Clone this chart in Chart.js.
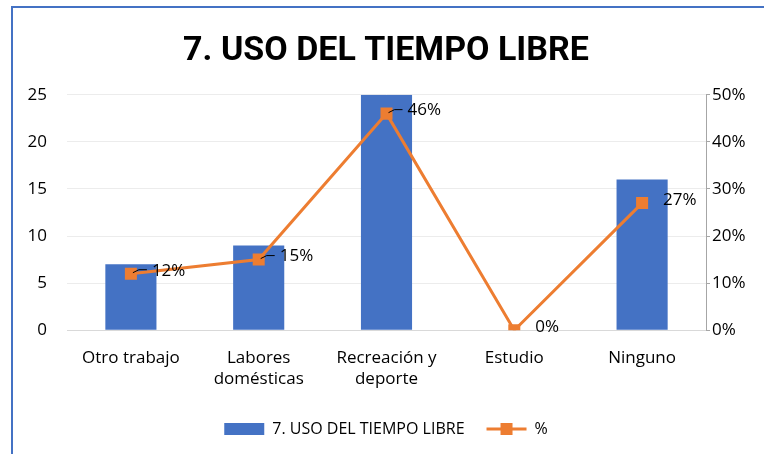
<!DOCTYPE html>
<html lang="es">
<head>
  <meta charset="UTF-8">
  <title>7. USO DEL TIEMPO LIBRE</title>
  <script src="https://cdn.jsdelivr.net/npm/chart.js"></script>
  <style>
    html, body { margin: 0; padding: 0; background: #fff; }
    #wrap { position: relative; width: 764px; height: 454px; overflow: hidden; }
    #frame { position: absolute; left: 11px; top: 6px; width: 800px; height: 500px;
             border-left: 2px solid #4472C4; border-top: 2px solid #4472C4; }
    canvas { position: absolute; left: 0; top: 0; }
  </style>
</head>
<body>
  <div id="wrap">
    <div id="frame"></div>
    <canvas id="chart" width="764" height="454"></canvas>
  </div>

  <script>
    const categories = ["Otro trabajo", ["Labores", "domésticas"], ["Recreación y", "deporte"], "Estudio", "Ninguno"];
    const cantidad = [7, 9, 25, 0, 16];
    const porcentaje = [12, 15, 46, 0, 27];
    const leftTicks = [0, 5, 10, 15, 20, 25];
    const rightTicks = [0, 10, 20, 30, 40, 50];

    const bodyFont = "'Open Sans', 'Noto Sans', sans-serif";
    const orange = "#ED7D31";

    // etiquetas de datos junto a cada punto + marcador cuadrado en la leyenda
    const extras = {
      id: "extras",
      afterDatasetsDraw(chart) {
        const ctx = chart.ctx;
        const meta = chart.getDatasetMeta(1);
        ctx.save();
        ctx.font = "17px " + bodyFont;
        ctx.fillStyle = "#000";
        ctx.textAlign = "left";
        ctx.textBaseline = "middle";
        meta.data.forEach((pt, i) => {
          ctx.strokeStyle = "#000";
          ctx.lineWidth = 1;
          if (porcentaje[i] > 0 && i !== 4) {
            ctx.beginPath();
            ctx.moveTo(pt.x + 2, pt.y - 1);
            ctx.lineTo(pt.x + 8, pt.y - 4);
            ctx.lineTo(pt.x + 16, pt.y - 4);
            ctx.stroke();
          }
          ctx.fillText(porcentaje[i] + "%", pt.x + 21, pt.y - 3);
        });
        ctx.restore();
      },
      afterDraw(chart) {
        const box = chart.legend.legendHitBoxes[1];
        if (!box) return;
        const ctx = chart.ctx;
        ctx.save();
        ctx.fillStyle = orange;
        ctx.fillRect(box.left + 20 - 6, box.top + box.height / 2 - 6, 12, 12);
        ctx.restore();
      }
    };

    new Chart(document.getElementById("chart"), {
      type: "bar",
      data: {
        labels: categories,
        datasets: [{
          label: "7. USO DEL TIEMPO LIBRE",
          data: cantidad,
          backgroundColor: "#4472C4",
          categoryPercentage: 1,
          barPercentage: 0.4,
          yAxisID: "y",
          order: 2
        }, {
          type: "line",
          label: "%",
          data: porcentaje,
          borderColor: orange,
          backgroundColor: orange,
          borderWidth: 3,
          pointStyle: "rect",
          pointRadius: 8.5,
          pointBorderWidth: 0,
          yAxisID: "y1",
          order: 1
        }]
      },
      options: {
        responsive: false,
        animation: false,
        layout: { padding: { top: 31, left: 14, right: 6, bottom: 7 } },
        plugins: {
          tooltip: { enabled: false },
          title: {
            display: true,
            text: "7. USO DEL TIEMPO LIBRE",
            color: "#000",
            font: { family: "'Roboto', sans-serif", size: 34, weight: "bold" },
            padding: { top: 0, bottom: 23 }
          },
          legend: {
            position: "bottom",
            labels: {
              color: "#000",
              font: { family: bodyFont, size: 16 },
              usePointStyle: true,
              pointStyleWidth: 40,
              boxWidth: 40,
              boxHeight: 12,
              padding: 22,
              generateLabels(chart) {
                return [
                  { text: "7. USO DEL TIEMPO LIBRE", fillStyle: "#4472C4", strokeStyle: "#4472C4", lineWidth: 0, pointStyle: "rect", datasetIndex: 0 },
                  { text: "%", fillStyle: orange, strokeStyle: orange, lineWidth: 3, pointStyle: "line", datasetIndex: 1 }
                ];
              }
            }
          }
        },
        scales: {
          x: {
            grid: { display: false },
            border: { color: "#d9d9d9" },
            ticks: { color: "#000", font: { family: bodyFont, size: 17 }, maxRotation: 0, padding: 10 }
          },
          y: {
            position: "left",
            min: 0, max: 25,
            afterBuildTicks(axis) { axis.ticks = leftTicks.map(v => ({ value: v })); },
            afterFit(axis) { axis.width = 53; },
            grid: { color: "#ececec", drawTicks: false },
            border: { display: false },
            ticks: { color: "#000", font: { family: bodyFont, size: 17 }, padding: 20 }
          },
          y1: {
            position: "right",
            min: 0, max: 50,
            afterBuildTicks(axis) { axis.ticks = rightTicks.map(v => ({ value: v })); },
            afterFit(axis) { axis.width = 52; },
            grid: { drawOnChartArea: false, color: "#a6a6a6", tickLength: 4 },
            border: { color: "#a6a6a6" },
            ticks: { color: "#000", font: { family: bodyFont, size: 17 }, padding: 2, callback: v => v + "%" }
          }
        }
      },
      plugins: [extras]
    });
  </script>
</body>
</html>
